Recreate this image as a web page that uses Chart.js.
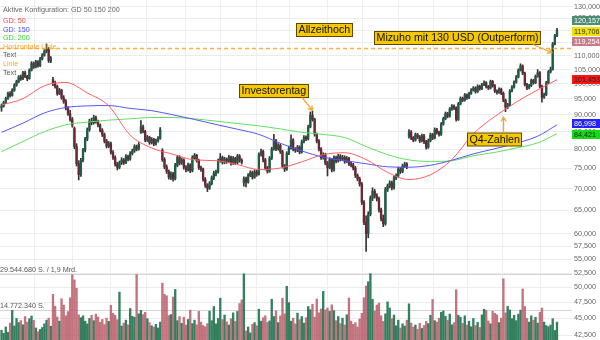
<!DOCTYPE html>
<html>
<head>
<meta charset="utf-8">
<script src="https://cdn.jsdelivr.net/npm/chart.js@4.4.0/dist/chart.umd.min.js"></script>
<style>
  html, body { margin: 0; padding: 0; background: #fff; }
  #wrap { width: 600px; height: 340px; position: relative; }
</style>
</head>
<body>
<div id="wrap"><canvas id="kurs"></canvas></div>
<script>
// Tageskerzen (USD)
const opens = [
  92.2, 92.8, 93.9, 95.2, 96.8, 96.1, 97.9, 99.6, 100.8, 102.4,
  101.7, 103.9, 102.6, 101.8, 104.8, 107.2, 105.9, 107.8, 106.4, 108.9,
  110.3, 111.9, 112.8, 108.2, 101.5, 100.2, 99.1, 96.8, 97.9, 95.4,
  94.2, 92.1, 90.3, 88.6, 85.9, 80.8, 76.2, 73.4, 77.1, 79.8,
  82.9, 85.6, 88.1, 87.6, 89.2, 88.0, 86.9, 85.4, 84.1, 82.3,
  80.9, 81.6, 79.2, 77.8, 76.1, 75.3, 76.4, 77.2, 76.5, 78.1,
  77.4, 78.9, 79.6, 80.8, 80.1, 84.8, 86.4, 85.1, 82.6, 83.4,
  81.9, 82.8, 81.5, 82.4, 83.1, 79.8, 77.3, 75.4, 74.2, 72.8,
  73.6, 72.4, 75.8, 77.9, 76.4, 77.2, 75.3, 74.6, 75.9, 74.4,
  77.8, 78.4, 77.1, 75.2, 74.8, 72.3, 70.8, 70.1, 71.2, 72.6,
  73.8, 74.1, 76.9, 77.8, 76.6, 77.4, 76.8, 77.9, 76.3, 77.6,
  76.5, 78.2, 77.1, 71.4, 72.4, 71.6, 73.2, 73.9, 72.8, 74.1,
  73.5, 78.6, 79.4, 77.2, 75.1, 74.3, 77.6, 80.1, 82.4, 80.2,
  81.1, 79.4, 75.6, 74.8, 78.9, 80.4, 82.6, 80.1, 79.8, 80.6,
  79.3, 82.1, 83.4, 82.9, 86.4, 89.8, 88.6, 84.2, 82.3, 80.1,
  77.8, 78.6, 76.4, 75.2, 77.3, 74.6, 77.8, 76.9, 78.2, 77.4,
  77.9, 76.8, 77.6, 76.2, 75.9, 75.1, 73.2, 72.4, 71.1, 66.8,
  62.4, 60.1, 64.2, 67.8, 69.4, 68.3, 67.6, 65.1, 63.2, 62.1,
  69.8, 70.6, 71.4, 70.2, 72.6, 73.1, 74.8, 74.2, 75.6, 76.1,
  83.6, 84.9, 83.2, 82.6, 84.1, 83.5, 82.4, 83.8, 82.1, 80.6,
  82.4, 84.1, 83.2, 85.6, 84.8, 84.2, 87.2, 88.8, 90.4, 89.6,
  91.8, 92.7, 92.1, 88.6, 93.4, 95.2, 94.6, 96.3, 95.4, 96.8,
  97.9, 98.6, 97.4, 99.2, 98.4, 99.7, 100.4, 99.1, 98.6, 100.8,
  99.4, 97.6, 97.1, 98.2, 96.9, 94.6, 92.4, 93.1, 97.6, 98.9,
  100.6, 102.4, 104.8, 106.3, 103.7, 99.8, 98.6, 99.4, 101.2, 100.4,
  102.6, 103.9, 99.2, 95.6, 96.4, 100.4, 104.2, 105.1, 114.6, 117.9
];
const highs = [
  93.4, 94.3, 95.6, 97.3, 97.4, 98.4, 100.1, 101.3, 102.9, 103.1,
  104.4, 104.5, 103.0, 105.3, 107.9, 107.8, 108.4, 108.3, 109.5, 110.9,
  112.4, 114.6, 113.2, 109.8, 102.3, 101.0, 99.6, 98.5, 98.2, 96.1,
  94.8, 92.6, 91.4, 89.2, 86.4, 81.6, 77.0, 77.6, 80.3, 83.4,
  86.1, 88.7, 89.0, 89.9, 89.6, 88.4, 87.3, 85.9, 84.6, 82.8,
  82.2, 82.0, 79.7, 78.3, 76.6, 76.9, 77.8, 77.6, 78.6, 78.5,
  79.4, 80.1, 81.3, 81.2, 81.9, 88.3, 86.9, 85.4, 83.9, 83.7,
  83.3, 83.1, 82.9, 83.6, 86.2, 80.2, 77.8, 75.9, 74.6, 74.1,
  74.0, 76.3, 78.4, 78.3, 77.7, 77.5, 75.7, 76.4, 76.2, 78.3,
  78.9, 78.7, 77.4, 75.6, 75.1, 72.7, 71.2, 71.7, 73.1, 74.3,
  74.6, 77.4, 78.9, 78.2, 77.9, 77.7, 78.4, 78.2, 78.1, 77.9,
  78.7, 78.6, 77.5, 72.9, 72.8, 73.7, 74.4, 74.3, 74.6, 74.5,
  79.1, 80.1, 79.8, 77.6, 75.5, 78.1, 80.6, 84.2, 82.8, 81.6,
  81.5, 79.8, 76.0, 79.4, 80.9, 84.1, 83.0, 80.5, 81.1, 81.0,
  82.6, 83.9, 83.8, 86.9, 90.9, 91.2, 89.0, 84.6, 82.7, 80.5,
  79.1, 79.0, 76.8, 77.8, 77.6, 78.3, 78.2, 78.7, 78.6, 78.4,
  78.3, 78.1, 77.9, 76.6, 76.3, 75.5, 73.6, 72.8, 71.5, 67.2,
  63.8, 64.7, 68.3, 70.2, 69.8, 68.8, 68.0, 65.5, 64.0, 70.3,
  71.1, 71.9, 71.8, 73.1, 73.6, 75.3, 75.2, 76.1, 76.6, 76.5,
  85.6, 85.3, 83.6, 84.6, 84.5, 83.9, 84.3, 84.2, 82.5, 82.9,
  84.6, 84.5, 86.1, 86.0, 85.2, 87.7, 89.3, 90.9, 90.8, 92.3,
  93.2, 93.1, 92.5, 93.9, 95.7, 95.6, 96.8, 96.7, 97.3, 98.4,
  99.1, 99.0, 99.7, 99.6, 100.2, 101.1, 100.8, 99.5, 101.3, 101.2,
  99.8, 98.0, 98.7, 98.6, 97.3, 95.0, 93.6, 98.1, 99.4, 101.1,
  102.9, 105.3, 107.1, 106.7, 104.1, 100.2, 99.9, 101.7, 101.6, 103.1,
  105.0, 104.3, 99.6, 96.9, 100.9, 104.7, 105.9, 115.2, 118.4, 120.9
];
const lows = [
  91.1, 92.4, 93.5, 94.9, 95.6, 95.9, 97.5, 99.2, 100.4, 101.2,
  101.5, 102.2, 101.1, 101.6, 104.5, 105.4, 105.6, 105.9, 106.1, 108.5,
  109.9, 111.2, 107.6, 107.5, 99.4, 98.6, 96.2, 96.4, 94.9, 93.6,
  91.5, 89.8, 88.1, 86.3, 80.2, 75.6, 72.1, 73.0, 76.7, 79.3,
  82.4, 85.1, 87.0, 87.2, 87.5, 86.4, 84.9, 83.6, 81.8, 80.4,
  80.5, 78.7, 77.3, 75.6, 74.6, 74.9, 76.0, 76.0, 76.2, 76.9,
  77.1, 78.5, 79.2, 79.6, 79.8, 84.5, 84.6, 82.1, 82.2, 81.4,
  81.5, 81.0, 81.2, 82.0, 82.8, 76.8, 74.9, 73.7, 72.3, 72.2,
  71.8, 72.1, 75.4, 75.9, 76.0, 74.8, 74.1, 74.3, 73.9, 74.1,
  77.4, 76.6, 74.7, 74.2, 71.8, 70.3, 69.3, 69.8, 70.9, 72.2,
  73.1, 73.8, 76.6, 76.1, 76.2, 76.3, 76.5, 75.8, 76.0, 76.0,
  76.2, 76.6, 76.1, 70.6, 70.4, 71.3, 72.9, 72.3, 72.5, 73.0,
  73.3, 78.2, 76.7, 74.6, 73.8, 74.0, 77.3, 79.8, 79.7, 79.8,
  78.9, 75.1, 74.2, 74.5, 78.6, 80.1, 79.6, 79.2, 79.4, 78.8,
  79.0, 81.8, 82.4, 82.6, 86.1, 88.1, 83.7, 81.8, 79.6, 77.3,
  77.4, 75.9, 73.1, 74.9, 74.1, 74.3, 76.4, 76.6, 76.9, 77.0,
  76.3, 76.5, 75.7, 75.4, 74.6, 72.7, 71.9, 70.6, 66.3, 61.9,
  56.5, 59.2, 63.8, 67.2, 67.8, 67.1, 64.6, 62.7, 61.5, 61.8,
  69.3, 70.2, 69.7, 69.9, 72.2, 72.8, 73.7, 73.9, 75.2, 74.9,
  83.1, 82.7, 82.1, 82.3, 83.0, 81.9, 82.1, 81.6, 80.1, 80.3,
  82.1, 82.7, 82.9, 84.3, 83.7, 83.9, 86.9, 88.5, 89.1, 89.3,
  91.4, 91.6, 88.1, 88.3, 93.1, 94.1, 94.3, 94.9, 95.1, 96.5,
  97.6, 96.9, 97.1, 97.9, 98.1, 99.4, 98.6, 98.1, 98.3, 98.9,
  97.1, 96.6, 96.8, 96.4, 94.1, 91.0, 91.9, 92.8, 97.3, 98.6,
  100.3, 102.1, 104.5, 103.2, 99.3, 98.1, 98.3, 99.1, 99.9, 100.1,
  102.3, 98.7, 94.0, 95.2, 96.1, 100.1, 103.8, 104.8, 114.2, 117.5
];
const closes = [
  92.8, 93.9, 95.2, 96.8, 96.1, 97.9, 99.6, 100.8, 102.4, 101.7,
  103.9, 102.6, 101.8, 104.8, 107.2, 105.9, 107.8, 106.4, 108.9, 110.3,
  111.9, 112.8, 108.2, 109.1, 100.2, 99.1, 96.8, 97.9, 95.4, 94.2,
  92.1, 90.3, 88.6, 86.9, 80.8, 76.2, 73.4, 77.1, 79.8, 82.9,
  85.6, 88.1, 87.6, 89.2, 88.0, 86.9, 85.4, 84.1, 82.3, 80.9,
  81.6, 79.2, 77.8, 76.1, 75.3, 76.4, 77.2, 76.5, 78.1, 77.4,
  78.9, 79.6, 80.8, 80.1, 81.4, 86.4, 85.1, 82.6, 83.4, 81.9,
  82.8, 81.5, 82.4, 83.1, 85.6, 77.3, 75.4, 74.2, 72.8, 73.6,
  72.4, 75.8, 77.9, 76.4, 77.2, 75.3, 74.6, 75.9, 74.4, 77.8,
  78.4, 77.1, 75.2, 74.8, 72.3, 70.8, 70.1, 71.2, 72.6, 73.8,
  74.1, 76.9, 77.8, 76.6, 77.4, 76.8, 77.9, 76.3, 77.6, 76.5,
  78.2, 77.1, 76.6, 72.4, 71.6, 73.2, 73.9, 72.8, 74.1, 73.5,
  78.6, 79.4, 77.2, 75.1, 74.3, 77.6, 80.1, 82.4, 80.2, 81.1,
  79.4, 75.6, 74.8, 78.9, 80.4, 82.6, 80.1, 79.8, 80.6, 79.3,
  82.1, 83.4, 82.9, 86.4, 89.8, 88.6, 84.2, 82.3, 80.1, 77.8,
  78.6, 76.4, 75.2, 77.3, 74.6, 77.8, 76.9, 78.2, 77.4, 77.9,
  76.8, 77.6, 76.2, 75.9, 75.1, 73.2, 72.4, 71.1, 66.8, 62.4,
  60.1, 64.2, 67.8, 69.4, 68.3, 67.6, 65.1, 63.2, 62.1, 69.8,
  70.6, 71.4, 70.2, 72.6, 73.1, 74.8, 74.2, 75.6, 76.1, 75.4,
  84.9, 83.2, 82.6, 84.1, 83.5, 82.4, 83.8, 82.1, 80.6, 82.4,
  84.1, 83.2, 85.6, 84.8, 84.2, 87.2, 88.8, 90.4, 89.6, 91.8,
  92.7, 92.1, 88.6, 93.4, 95.2, 94.6, 96.3, 95.4, 96.8, 97.9,
  98.6, 97.4, 99.2, 98.4, 99.7, 100.4, 99.1, 98.6, 100.8, 99.4,
  97.6, 97.1, 98.2, 96.9, 94.6, 92.4, 93.1, 97.6, 98.9, 100.6,
  102.4, 104.8, 106.3, 103.7, 99.8, 98.6, 99.4, 101.2, 100.4, 102.6,
  103.9, 99.2, 95.6, 96.4, 100.4, 104.2, 105.1, 114.6, 117.9, 120.157
];
// Umsatz in Mio. Stück
const volumes = [
  6.5, 5.2, 7.8, 5.6, 9.4, 14.6, 8.2, 11.3, 9.6, 10.4,
  8.7, 12.1, 9.8, 11.2, 12.3, 10.5, 7.4, 5.9, 6.8, 7.6,
  9.1, 10.6, 11.4, 8.1, 21.2, 16.3, 11.9, 10.2, 19.4, 16.8,
  12.4, 14.1, 19.8, 29.2, 27.1, 23.7, 12.8, 11.6, 12.4, 10.2,
  9.1, 11.3, 12.6, 10.4, 13.1, 11.9, 9.7, 10.9, 8.8, 11.4,
  10.1, 16.7, 13.4, 12.6, 10.8, 22.1, 8.2, 9.4, 10.6, 8.7,
  15.4, 12.2, 11.8, 29.3, 13.2, 14.6, 12.9, 13.8, 11.2, 9.6,
  8.3, 7.8, 8.9, 7.4, 9.8, 25.8, 21.2, 20.6, 12.5, 12.9,
  20.1, 23.2, 10.4, 12.1, 9.3, 11.8, 8.6, 10.9, 14.7, 9.2,
  10.6, 8.7, 14.2, 9.8, 8.4, 7.9, 9.2, 14.3, 10.4, 16.2,
  9.1, 11.3, 19.6, 10.8, 12.7, 9.9, 8.6, 11.2, 13.6, 10.1,
  14.2, 17.4, 18.9, 29.6, 6.2, 7.8, 5.4, 8.9, 9.6, 8.3,
  15.1, 10.2, 11.6, 12.4, 9.7, 10.3, 19.2, 12.1, 14.4, 9.6,
  12.4, 19.6, 13.2, 24.5, 17.8, 10.2, 11.4, 9.1, 13.5, 10.8,
  12.1, 9.4, 11.6, 16.2, 14.9, 17.1, 11.8, 19.3, 13.6, 15.2,
  22.4, 14.8, 15.6, 14.2, 16.9, 14.5, 10.4, 12.1, 9.2, 11.4,
  8.6, 12.8, 19.7, 10.2, 8.9, 9.6, 7.8, 11.1, 13.4, 19.8,
  24.6, 26.4, 29.7, 19.2, 14.3, 16.8, 17.6, 12.4, 10.1, 13.2,
  18.1, 15.6, 11.2, 12.7, 8.3, 10.6, 7.4, 9.1, 8.2, 10.6,
  17.3, 9.4, 7.8, 8.6, 6.9, 9.3, 7.2, 8.4, 10.1, 9.2,
  12.6, 19.1, 10.4, 9.8, 11.4, 13.8, 14.4, 12.2, 10.6, 13.1,
  8.7, 9.6, 23.1, 12.6, 11.8, 9.3, 12.4, 8.6, 10.2, 7.9,
  11.3, 8.4, 9.7, 7.6, 12.8, 15.1, 14.6, 10.3, 9.1, 14.2,
  13.4, 12.8, 9.6, 11.4, 27.6, 13.6, 16.3, 14.8, 11.2, 12.6,
  10.4, 13.1, 14.7, 23.4, 16.2, 11.3, 9.8, 12.4, 10.6, 11.8,
  9.4, 13.8, 15.6, 9.8, 8.4, 7.9, 8.6, 11.2, 6.4, 9.8
];

const maIdx = [0, 10, 20, 30, 40, 50, 60, 70, 80, 90, 100, 110, 120, 130, 140, 150, 160, 170, 180, 190, 200, 210, 220, 230, 240, 250, 259];
const gd50 = [93.1, 95.1, 99.4, 100.5, 97.0, 92.8, 84.0, 80.4, 78.7, 77.2, 77.0, 76.0, 74.7, 75.1, 76.7, 78.6, 79.1, 77.3, 74.0, 72.2, 73.4, 77.3, 84.4, 89.5, 94.0, 98.0, 101.453];
const gd150 = [84.8, 87.5, 90.6, 92.3, 92.8, 92.9, 92.0, 91.3, 90.0, 88.6, 87.1, 85.7, 84.2, 81.7, 79.6, 77.9, 77.0, 76.2, 75.4, 75.3, 75.8, 77.1, 78.8, 80.2, 81.7, 83.7, 86.998];
const gd200 = [79.4, 82.2, 85.0, 87.0, 87.8, 88.4, 88.8, 89.2, 89.2, 88.8, 88.1, 87.4, 86.7, 85.8, 84.8, 84.2, 83.3, 80.8, 78.6, 77.2, 76.8, 77.0, 78.3, 79.2, 80.4, 81.8, 84.421];

const priceTicks = [42.5, 45, 47.5, 50, 52.5, 55, 57.5, 60, 65, 70, 75, 80, 85, 90, 95, 100, 105, 110, 115, 120, 125, 130];
const monthIdx = [15.6, 33.3, 50.6, 67.8, 85.6, 101.9, 119.1, 134.5, 151.8, 168.1, 184.9, 201.2, 217.5, 233.8, 251.1];
const volLevels = [29.54468, 14.77234];
const volLabels = ['29.544.680 S. / 1,9 Mrd.', '14.772.340 S.'];
const horizLevel = 112.9;
const quoteTags = [119.706, 119.254];

const legendLines = ['Aktive Konfiguration: GD 50 150 200', 'GD: 50', 'GD: 150', 'GD: 200', 'Horizontale Linie', 'Text', 'Linie', 'Text'];
const legendColors = ['#666', '#ff4a4a', '#4a4aff', '#2fd82f', '#ffa620', '#555', '#ffa620', '#555'];

// Notizen: Text, Ankerpunkt (Kerze, Kurs) fuer den Pfeil
const noteTexts = ['Allzeithoch', 'Investorentag', 'Mizuho mit 130 USD (Outperform)', 'Q4-Zahlen'];
const noteAnchors = [null, [145, 91.4], [256.6, 111.3], [234.1, 89.3]];

const FONT = '"Liberation Sans", Arial, sans-serif';
const noteBoxes = [[296.5, 23.5], [239.5, 84.5], [374.5, 31.5], [467.5, 133]];
const noteFrom = [null, [302, 97.5], [533, 44.5], [503.5, 133]];

function isUp(i) {
  return closes[i] >= opens[i];
}

function arrow(ctx, x0, y0, x1, y1) {
  var ang = Math.atan2(y1 - y0, x1 - x0);
  var L = 5;
  ctx.strokeStyle = '#f7a530';
  ctx.lineWidth = 1.3;
  ctx.beginPath();
  ctx.moveTo(x0, y0);
  ctx.lineTo(x1, y1);
  ctx.moveTo(x1 - L * Math.cos(ang - 0.55), y1 - L * Math.sin(ang - 0.55));
  ctx.lineTo(x1, y1);
  ctx.lineTo(x1 - L * Math.cos(ang + 0.55), y1 - L * Math.sin(ang + 0.55));
  ctx.stroke();
}

const overlay = {
  id: 'overlay',
  beforeDatasetsDraw(chart) {
    const ctx = chart.ctx, a = chart.chartArea, yv = chart.scales.yv;
    ctx.save();
    ctx.strokeStyle = '#d4d4d4';
    ctx.lineWidth = 1;
    ctx.fillStyle = '#555';
    ctx.font = '7.2px ' + FONT;
    ctx.textBaseline = 'bottom';
    volLevels.forEach(function (v, k) {
      var py = Math.round(yv.getPixelForValue(v)) + 0.5;
      ctx.beginPath();
      ctx.moveTo(a.left, py);
      ctx.lineTo(a.right, py);
      ctx.stroke();
      ctx.fillText(volLabels[k], 0, py - 0.5);
    });
    ctx.restore();
  },
  afterDraw(chart) {
    const ctx = chart.ctx, a = chart.chartArea, x = chart.scales.x, y = chart.scales.y;
    ctx.save();

    // horizontale Linie
    var hy = Math.round(y.getPixelForValue(horizLevel)) + 0.5;
    ctx.strokeStyle = '#ffb040';
    ctx.lineWidth = 1.5;
    ctx.setLineDash([4, 3]);
    ctx.beginPath();
    ctx.moveTo(a.left, hy);
    ctx.lineTo(a.right, hy);
    ctx.stroke();
    ctx.setLineDash([]);

    // Legende oben links
    ctx.font = '7.2px ' + FONT;
    ctx.textBaseline = 'middle';
    ctx.textAlign = 'left';
    legendLines.forEach(function (t, k) {
      ctx.fillStyle = legendColors[k];
      ctx.fillText(t, 3, k === 0 ? 10 : 21 + (k - 1) * 8.6);
    });

    // Notizen
    ctx.font = '10.7px ' + FONT;
    noteTexts.forEach(function (t, k) {
      var bx = noteBoxes[k][0], by = noteBoxes[k][1];
      var w = Math.round(ctx.measureText(t).width + 4);
      ctx.fillStyle = '#f5c800';
      ctx.fillRect(bx, by, w, 13);
      ctx.strokeStyle = '#5e4b00';
      ctx.lineWidth = 1;
      ctx.strokeRect(bx, by, w, 13);
      ctx.fillStyle = '#111';
      ctx.fillText(t, bx + 2, by + 7);
      if (noteAnchors[k]) {
        arrow(ctx, noteFrom[k][0], noteFrom[k][1],
          x.getPixelForValue(noteAnchors[k][0]), y.getPixelForValue(noteAnchors[k][1]));
      }
    });

    // Kursmarken rechts
    var tags = [
      { v: closes[closes.length - 1], bg: '#4d8c74', fg: '#fff' },
      { v: quoteTags[0], bg: '#f0e200', fg: '#333' },
      { v: quoteTags[1], bg: '#c77d87', fg: '#fff' },
      { v: gd50[gd50.length - 1], bg: '#ff1414', fg: '#222' },
      { v: gd150[gd150.length - 1], bg: '#2323ff', fg: '#fff' },
      { v: gd200[gd200.length - 1], bg: '#14dc14', fg: '#222' }
    ].map(function (t) { t.py = y.getPixelForValue(t.v); return t; })
     .sort(function (p, q) { return p.py - q.py; });
    var gap = 10.5;
    for (var it = 0; it < 80; it++) {
      var moved = false;
      for (var k = 1; k < tags.length; k++) {
        var d = tags[k].py - tags[k - 1].py;
        if (d < gap - 0.01) {
          var s = (gap - d) / 2;
          tags[k].py += s;
          tags[k - 1].py -= s;
          moved = true;
        }
      }
      if (!moved) break;
    }
    ctx.font = '7.2px ' + FONT;
    tags.forEach(function (t) {
      ctx.fillStyle = t.bg;
      ctx.fillRect(a.right, Math.round(t.py - 4.5), chart.width - a.right, 9);
      ctx.fillStyle = t.fg;
      ctx.fillText(t.v.toFixed(3).replace('.', ','), a.right + 2, Math.round(t.py - 4.5) + 4.8);
    });
    ctx.restore();
  }
};

const idx = closes.map(function (_, i) { return i; });

new Chart(document.getElementById('kurs'), {
  type: 'bar',
  data: {
    datasets: [
      {
        type: 'line', label: 'GD 50', yAxisID: 'y', order: 1,
        data: maIdx.map(function (v, k) { return { x: v, y: gd50[k] }; }),
        borderColor: '#ff5f5f', borderWidth: 1, pointRadius: 0, cubicInterpolationMode: 'monotone'
      },
      {
        type: 'line', label: 'GD 150', yAxisID: 'y', order: 1,
        data: maIdx.map(function (v, k) { return { x: v, y: gd150[k] }; }),
        borderColor: '#5555ff', borderWidth: 1, pointRadius: 0, cubicInterpolationMode: 'monotone'
      },
      {
        type: 'line', label: 'GD 200', yAxisID: 'y', order: 1,
        data: maIdx.map(function (v, k) { return { x: v, y: gd200[k] }; }),
        borderColor: '#5ee05e', borderWidth: 1, pointRadius: 0, cubicInterpolationMode: 'monotone'
      },
      {
        label: 'Koerper', yAxisID: 'y', order: 3, grouped: false, barThickness: 1.7,
        data: idx.map(function (i) { return { x: i, y: [Math.min(opens[i], closes[i]), Math.max(opens[i], closes[i])] }; }),
        backgroundColor: function (c) { return isUp(c.dataIndex) ? '#1f5c46' : '#6a2735'; }
      },
      {
        label: 'Docht', yAxisID: 'y', order: 4, grouped: false, barThickness: 1,
        data: idx.map(function (i) { return { x: i, y: [lows[i], highs[i]] }; }),
        backgroundColor: '#333'
      },
      {
        label: 'Volumen', yAxisID: 'yv', order: 5, grouped: false, barThickness: 1.7,
        data: idx.map(function (i) { return { x: i, y: volumes[i] }; }),
        backgroundColor: function (c) { return isUp(c.dataIndex) ? 'rgba(36,117,82,0.92)' : 'rgba(183,92,104,0.85)'; }
      }
    ]
  },
  options: {
    responsive: true,
    maintainAspectRatio: false,
    devicePixelRatio: 1,
    animation: false,
    events: [],
    layout: { padding: 0 },
    plugins: { legend: { display: false }, tooltip: { enabled: false } },
    scales: {
      x: {
        type: 'linear', min: -0.7, max: 266.0, bounds: 'data', offset: false,
        grid: { color: '#efefef', drawTicks: false, offset: false },
        border: { display: false },
        ticks: { display: false },
        afterBuildTicks: function (s) { s.ticks = monthIdx.map(function (v) { return { value: v }; }); },
        afterFit: function (s) { s.height = 0; s.paddingLeft = 0; s.paddingRight = 0; }
      },
      y: {
        type: 'logarithmic', position: 'right', min: 41.8, max: 133.1, bounds: 'data',
        grid: { color: '#ececec', drawTicks: false },
        border: { display: false },
        ticks: {
          autoSkip: false, padding: 2, color: '#666',
          font: { size: 7.2, family: FONT },
          callback: function (v) { return Number(v).toFixed(3).replace('.', ','); }
        },
        afterBuildTicks: function (s) { s.ticks = priceTicks.map(function (v) { return { value: v }; }); },
        afterFit: function (s) { s.width = 28; s.paddingTop = 0; s.paddingBottom = 0; }
      },
      yv: {
        type: 'linear', display: false, min: 2.46, max: 141.96, bounds: 'data'
      }
    }
  },
  plugins: [overlay]
});
</script>
</body>
</html>
